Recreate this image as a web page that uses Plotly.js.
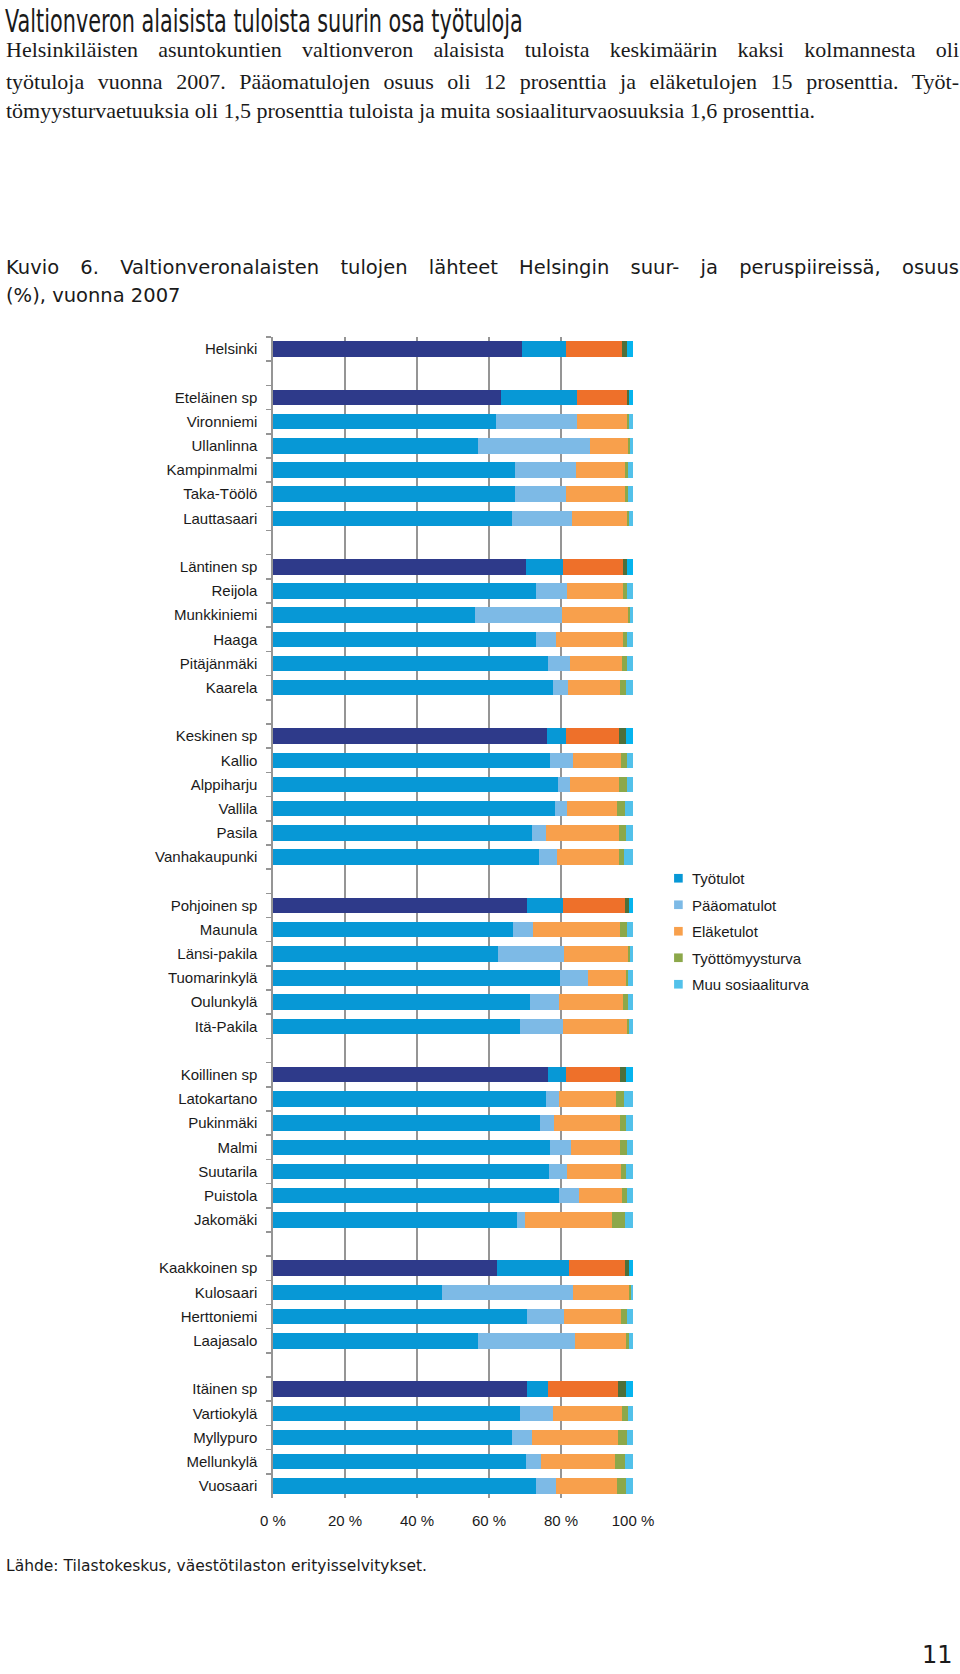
<!DOCTYPE html>
<html>
<head>
<meta charset="utf-8">
<script src="https://cdn.plot.ly/plotly-3.0.1.min.js"></script>
<style>
  html, body { margin: 0; padding: 0; background: #fff; }
  #chart { width: 960px; height: 1674px; }
</style>
</head>
<body>
<div id="chart"></div>
<script>
// ---------- DATA ----------
const categories = [
  "Helsinki", "",
  "Eteläinen sp", "Vironniemi", "Ullanlinna", "Kampinmalmi", "Taka-Töölö", "Lauttasaari", "",
  "Läntinen sp", "Reijola", "Munkkiniemi", "Haaga", "Pitäjänmäki", "Kaarela", "",
  "Keskinen sp", "Kallio", "Alppiharju", "Vallila", "Pasila", "Vanhakaupunki", "",
  "Pohjoinen sp", "Maunula", "Länsi-pakila", "Tuomarinkylä", "Oulunkylä", "Itä-Pakila", "",
  "Koillinen sp", "Latokartano", "Pukinmäki", "Malmi", "Suutarila", "Puistola", "Jakomäki", "",
  "Kaakkoinen sp", "Kulosaari", "Herttoniemi", "Laajasalo", "",
  "Itäinen sp", "Vartiokylä", "Myllypuro", "Mellunkylä", "Vuosaari"
];

const tyotulot = [
  69.3, null,
  63.4, 61.9, 56.9, 67.3, 67.3, 66.3, null,
  70.3, 73.0, 56.0, 73.0, 76.5, 77.8, null,
  76.1, 77.0, 79.1, 78.4, 71.9, 73.8, null,
  70.6, 66.7, 62.4, 79.6, 71.5, 68.5, null,
  76.4, 75.7, 74.2, 77.0, 76.8, 79.4, 67.7, null,
  62.1, 46.9, 70.6, 56.9, null,
  70.6, 68.5, 66.3, 70.2, 73.1
];
const paaomatulot = [
  12.0, null,
  21.1, 22.6, 31.2, 16.9, 14.0, 16.7, null,
  10.3, 8.7, 24.2, 5.7, 6.1, 4.1, null,
  5.2, 6.2, 3.4, 3.3, 4.0, 5.1, null,
  10.0, 5.6, 18.5, 7.9, 7.9, 12.1, null,
  4.9, 3.7, 3.9, 5.7, 4.9, 5.5, 2.2, null,
  20.1, 36.3, 10.1, 27.1, null,
  5.9, 9.3, 5.6, 4.3, 5.4
];
const elaketulot = [
  15.6, null,
  13.7, 13.7, 10.4, 13.7, 16.6, 15.3, null,
  16.6, 15.5, 18.4, 18.5, 14.3, 14.5, null,
  14.7, 13.4, 13.5, 13.9, 20.1, 17.1, null,
  17.1, 24.0, 17.7, 10.5, 17.8, 17.7, null,
  15.0, 15.8, 18.2, 13.8, 14.9, 12.1, 24.2, null,
  15.5, 15.8, 15.9, 14.0, null,
  19.4, 19.1, 24.0, 20.4, 17.1
];
const tyottomyysturva = [
  1.5, null,
  0.8, 0.7, 0.6, 0.8, 0.8, 0.6, null,
  1.2, 1.2, 0.5, 1.2, 1.5, 1.7, null,
  2.1, 1.8, 2.3, 2.2, 2.1, 1.4, null,
  1.1, 2.0, 0.5, 0.7, 1.3, 0.6, null,
  1.8, 2.2, 1.8, 1.9, 1.5, 1.4, 3.7, null,
  1.1, 0.4, 1.8, 0.9, null,
  2.2, 1.8, 2.4, 2.8, 2.5
];
const muuSosiaaliturva = [
  1.6, null,
  1.0, 1.1, 0.9, 1.3, 1.3, 1.1, null,
  1.6, 1.6, 0.9, 1.6, 1.6, 1.9, null,
  1.9, 1.6, 1.7, 2.2, 1.9, 2.6, null,
  1.2, 1.7, 0.9, 1.3, 1.5, 1.1, null,
  1.9, 2.6, 1.9, 1.6, 1.9, 1.6, 2.2, null,
  1.2, 0.6, 1.6, 1.1, null,
  1.9, 1.3, 1.7, 2.3, 1.9
];

const seriesNames = ["Työtulot", "Pääomatulot", "Eläketulot", "Työttömyysturva", "Muu sosiaaliturva"];
const seriesValues = [tyotulot, paaomatulot, elaketulot, tyottomyysturva, muuSosiaaliturva];
const xTickVals = [0, 20, 40, 60, 80, 100];
const xTickText = ["0 %", "20 %", "40 %", "60 %", "80 %", "100 %"];

// ---------- STYLE ----------
const districtColors = ["#0798d6", "#7dbae6", "#f8a04c", "#8ca84a", "#52c1ea"];
const aggregateColors = ["#2e3a8a", "#0798d6", "#ee702a", "#4e6f3a", "#06b4ee"];

// unique keys for category axis (blank rows get distinct whitespace keys)
let blankCount = 0;
const yKeys = categories.map(c => c === "" ? " ".repeat(++blankCount) : c);
const isAggregate = categories.map(c => c === "Helsinki" || / sp$/.test(c));

const traces = [];
seriesNames.forEach((name, s) => {
  traces.push({
    type: "bar", orientation: "h", name: name,
    y: yKeys,
    x: seriesValues[s].map((v, i) => isAggregate[i] ? null : v),
    marker: { color: districtColors[s], line: { width: 0 } },
    legendgroup: "g" + s, showlegend: true, hoverinfo: "skip"
  });
});
seriesNames.forEach((name, s) => {
  traces.push({
    type: "bar", orientation: "h", name: name + " (yht.)",
    y: yKeys,
    x: seriesValues[s].map((v, i) => isAggregate[i] ? v : null),
    marker: { color: aggregateColors[s], line: { width: 0 } },
    showlegend: false, hoverinfo: "skip"
  });
});

// ---------- LAYOUT ----------
const W = 960, H = 1674;
const M = { l: 273, r: 327, t: 337, b: 176 };
const plotW = W - M.l - M.r, plotH = H - M.t - M.b;
const px = X => (X - M.l) / plotW;
const py = Y => (H - M.b - Y) / plotH;

const textColor = "#1a1a1a";
const bodyFont = { family: "Liberation Serif, Times New Roman, serif", size: 22, color: textColor };
const sansFont = { family: "DejaVu Sans, Verdana, sans-serif", size: 19.5, color: textColor };

function ann(text, X, Y, font, anchor) {
  const a = anchor || "left";
  return { text: text, xref: "paper", yref: "paper", x: px(X), y: py(Y),
           xanchor: a, align: a, yanchor: "middle", showarrow: false, font: font, borderpad: 0 };
}

const TEXT_LEFT = 5, TEXT_RIGHT = 958;
// annotation indices that are justified lines of a paragraph
const justified = [0, 1, 3];

const layout = {
  width: W, height: H,
  margin: M,
  paper_bgcolor: "#ffffff", plot_bgcolor: "#ffffff",
  barmode: "stack", bargap: 0.36,
  showlegend: true,
  font: { family: "Liberation Sans, Arial, sans-serif", size: 15, color: textColor },
  title: {
    text: "Valtionveron alaisista tuloista suurin osa työtuloja",
    xref: "container", yref: "container", x: 5 / W, xanchor: "left",
    y: 1 - 21 / H, yanchor: "middle",
    font: { family: "DejaVu Sans, sans-serif", size: 32, color: textColor }
  },
  xaxis: {
    range: [0, 100], fixedrange: true,
    tickvals: xTickVals, ticktext: xTickText,
    showgrid: true, gridcolor: "#959595", gridwidth: 1.6,
    zeroline: false, showline: false, ticks: "",
    ticklabelstandoff: 12,
    tickfont: { family: "Liberation Sans, Arial, sans-serif", size: 15, color: textColor }
  },
  yaxis: {
    type: "category", categoryorder: "array", categoryarray: yKeys,
    autorange: "reversed", fixedrange: true,
    showgrid: false, zeroline: false,
    showline: true, linecolor: "#959595", linewidth: 1.6,
    ticks: "outside", tickson: "boundaries", ticklen: 5, tickcolor: "#959595", tickwidth: 1.6,
    ticklabelstandoff: 11,
    tickfont: { family: "Liberation Sans, Arial, sans-serif", size: 15, color: textColor }
  },
  legend: {
    x: px(652), xanchor: "left", y: py(862), yanchor: "top",
    traceorder: "grouped", tracegroupgap: 4,
    font: { family: "Liberation Sans, Arial, sans-serif", size: 15, color: textColor },
    bgcolor: "rgba(0,0,0,0)", itemclick: false, itemdoubleclick: false
  },
  annotations: [
    ann("Helsinkiläisten asuntokuntien valtionveron alaisista tuloista keskimäärin kaksi kolmannesta oli", TEXT_LEFT, 50, bodyFont),
    ann("työtuloja vuonna 2007. Pääomatulojen osuus oli 12 prosenttia ja eläketulojen 15 prosenttia. Työt-", TEXT_LEFT, 81, bodyFont),
    ann("tömyysturvaetuuksia oli 1,5 prosenttia tuloista ja muita sosiaaliturvaosuuksia 1,6 prosenttia.", TEXT_LEFT, 111, bodyFont),
    ann("Kuvio 6. Valtionveronalaisten tulojen lähteet Helsingin suur- ja peruspiireissä, osuus", TEXT_LEFT, 267, sansFont),
    ann("(%), vuonna 2007", TEXT_LEFT, 296, sansFont),
    ann("Lähde: Tilastokeskus, väestötilaston erityisselvitykset.", TEXT_LEFT, 1566, { family: "DejaVu Sans, Verdana, sans-serif", size: 15.5, color: textColor }),
    ann("11", 954, 1655, { family: "DejaVu Sans, sans-serif", size: 24, color: textColor }, "right")
  ]
};

Plotly.newPlot("chart", traces, layout, { displayModeBar: false, staticPlot: true }).then(gd => {
  // condensed heading (reference uses a condensed typeface)
  const t = gd.querySelector(".gtitle");
  if (t) {
    const w = t.getComputedTextLength();
    const sx = 518 / w;
    const x0 = parseFloat(t.getAttribute("x")) || 0;
    const prev = t.getAttribute("transform") || "";
    t.setAttribute("transform", prev + ` translate(${x0},0) scale(${sx},1) translate(${-x0},0)`);
  }
  // justify full paragraph lines to the text block width
  justified.forEach(i => {
    const el = gd.querySelector(`.annotation[data-index="${i}"] .annotation-text`);
    if (!el) return;
    el.setAttribute("text-anchor", "start");
    const len = el.getComputedTextLength();
    const spaces = (el.textContent.match(/ /g) || []).length;
    if (spaces > 0) {
      const extra = (TEXT_RIGHT - TEXT_LEFT - len) / spaces;
      el.style.wordSpacing = extra + "px";
    }
  });
  // smaller legend swatches placed next to the text, as in the reference
  gd.querySelectorAll(".legend .legendpoints path").forEach(p => {
    const prev = p.getAttribute("transform") || "";
    p.setAttribute("transform", "translate(12,0) scale(0.72) " + prev);
  });
});
</script>
</body>
</html>
